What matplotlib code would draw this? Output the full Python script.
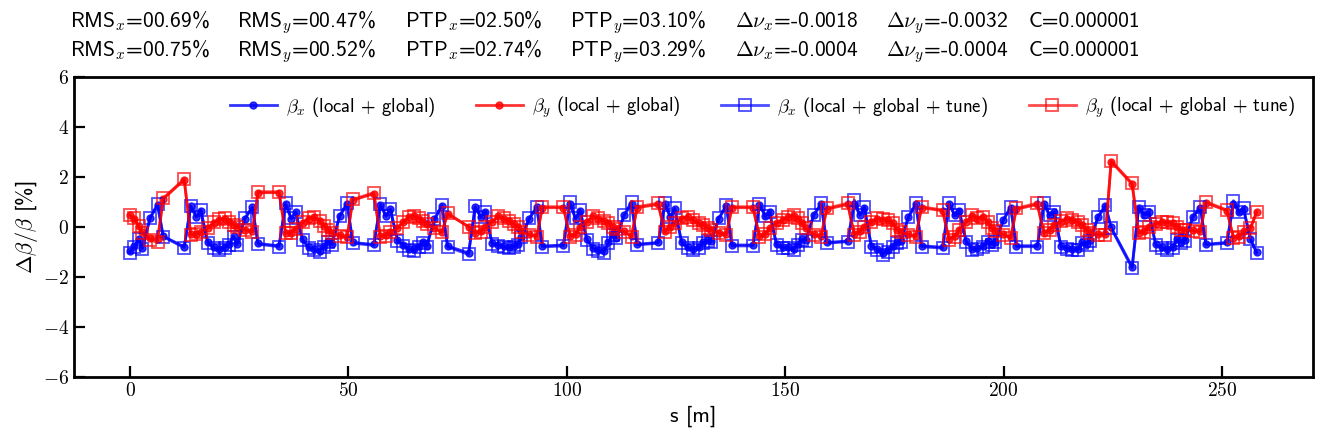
import numpy as np
import matplotlib.pyplot as plt
from matplotlib.ticker import FuncFormatter

plt.rcParams['font.family'] = ['cmss10', 'DejaVu Sans']
plt.rcParams['mathtext.fontset'] = 'cm'
plt.rcParams['axes.unicode_minus'] = False

# lattice: 12 cells, BPM offsets inside one cell [m]
cell_length = 21.7
bpm_offsets = [0.0, 1.0, 2.0, 2.8, 4.6, 6.3, 7.6, 12.4, 13.9, 15.2, 16.2, 17.8, 19.2, 20.4]
n_bpm = 167
s = [k * cell_length + o for k in range(12) for o in bpm_offsets][:n_bpm]

# beta-beat [%], local + global correction
bx_glob = [
    -0.97, -0.78, -0.48, -0.84, 0.35, 0.88, -0.37, -0.79, 0.82, 0.39, 0.65, -0.62, -0.81, -0.88,
    -0.81, -0.69, -0.37, -0.69, 0.33, 0.78, -0.66, -0.75, 0.90, 0.33, 0.58, -0.50, -0.81, -0.88,
    -0.95, -0.75, -0.56, -0.69, 0.43, 0.91, -0.62, -0.70, 0.88, 0.43, 0.70, -0.52, -0.71, -0.88,
    -0.90, -0.78, -0.62, -0.75, 0.30, 0.84, -0.76, -1.04, 0.78, 0.39, 0.58, -0.65, -0.71, -0.78,
    -0.81, -0.75, -0.69, -0.40, 0.33, 0.78, -0.76, -0.72, 0.91, 0.33, 0.65, -0.50, -0.84, -0.92,
    -0.98, -0.62, -0.30, -0.43, 0.46, 0.91, -0.69, -0.62, 0.90, 0.39, 0.71, -0.62, -0.81, -0.88,
    -0.81, -0.62, -0.52, -0.57, 0.33, 0.84, -0.72, -0.72, 0.88, 0.43, 0.58, -0.69, -0.81, -0.81,
    -0.88, -0.69, -0.50, -0.52, 0.46, 0.90, -0.62, -0.56, 0.91, 0.46, 0.77, -0.75, -0.88, -1.06,
    -0.94, -0.76, -0.62, -0.57, 0.39, 0.90, -0.75, -0.81, 0.90, 0.46, 0.65, -0.56, -0.88, -0.85,
    -0.75, -0.56, -0.69, -0.59, 0.27, 0.77, -0.75, -0.75, 0.90, 0.46, 0.58, -0.75, -0.84, -0.88,
    -0.88, -0.62, -0.69, -0.52, 0.39, 0.84, -0.02, -1.59, 0.77, 0.46, 0.58, -0.69, -0.81, -0.88,
    -0.81, -0.50, -0.62, -0.52, 0.39, 0.77, -0.69, -0.62, 0.91, 0.58, 0.71, -0.48, -1.00,
]
by_glob = [
    0.46, 0.33, 0.02, -0.22, -0.45, -0.49, 1.12, 1.88, -0.30, -0.27, -0.20, -0.04, 0.17, 0.28,
    0.33, 0.20, 0.08, 0.01, -0.11, -0.18, 1.37, 1.37, -0.23, -0.23, -0.07, 0.17, 0.33, 0.39,
    0.24, 0.05, -0.11, -0.23, -0.33, -0.40, 1.07, 1.33, -0.37, -0.33, -0.19, -0.05, 0.20, 0.38,
    0.43, 0.33, 0.21, 0.11, -0.05, -0.21, 0.52, 0.01, -0.23, -0.18, 0.00, 0.20, 0.43, 0.33,
    0.24, 0.11, 0.01, -0.18, -0.30, -0.37, 0.77, 0.77, -0.37, -0.30, 0.01, 0.20, 0.43, 0.33,
    0.24, 0.14, 0.01, -0.08, -0.18, -0.37, 0.77, 0.90, -0.18, 0.01, 0.14, 0.33, 0.39, 0.26,
    0.14, 0.08, -0.05, -0.11, -0.23, -0.30, 0.77, 0.77, -0.38, -0.28, -0.05, 0.14, 0.26, 0.38,
    0.45, 0.33, 0.14, -0.05, -0.30, -0.37, 0.71, 0.90, -0.30, -0.18, 0.00, 0.20, 0.33, 0.28,
    0.26, 0.14, -0.11, -0.19, -0.30, -0.37, 0.77, 0.65, -0.48, -0.37, -0.11, 0.19, 0.45, 0.33,
    0.39, 0.20, -0.05, -0.17, -0.30, -0.42, 0.71, 0.90, -0.23, -0.11, 0.08, 0.21, 0.33, 0.26,
    0.20, 0.08, -0.11, -0.23, -0.30, -0.30, 2.61, 1.71, -0.23, -0.18, 0.01, 0.11, 0.20, 0.17,
    0.14, 0.01, -0.11, -0.11, -0.14, -0.18, 0.96, 0.65, -0.43, -0.37, -0.18, -0.05, 0.58,
]
# local + global + tune correction
bx_tune = [
    -1.03, -0.82, -0.50, -0.88, 0.37, 0.92, -0.39, -0.83, 0.85, 0.41, 0.68, -0.65, -0.85, -0.92,
    -0.85, -0.72, -0.39, -0.72, 0.35, 0.81, -0.69, -0.79, 0.95, 0.35, 0.61, -0.52, -0.85, -0.92,
    -1.00, -0.79, -0.59, -0.72, 0.45, 0.97, -0.65, -0.74, 0.92, 0.45, 0.73, -0.55, -0.75, -0.92,
    -0.95, -0.82, -0.65, -0.79, 0.32, 0.88, -0.80, -1.10, 0.82, 0.41, 0.61, -0.68, -0.75, -0.82,
    -0.85, -0.79, -0.72, -0.42, 0.35, 0.81, -0.80, -0.76, 0.99, 0.35, 0.68, -0.52, -0.88, -0.97,
    -1.03, -0.65, -0.32, -0.45, 0.48, 1.01, -0.72, -0.65, 0.95, 0.41, 0.75, -0.65, -0.85, -0.92,
    -0.85, -0.65, -0.55, -0.60, 0.35, 0.88, -0.76, -0.76, 0.92, 0.45, 0.61, -0.72, -0.85, -0.85,
    -0.92, -0.72, -0.52, -0.55, 0.48, 0.95, -0.65, -0.59, 1.08, 0.48, 0.81, -0.79, -0.92, -1.12,
    -0.99, -0.80, -0.65, -0.60, 0.41, 0.95, -0.79, -0.85, 0.95, 0.48, 0.68, -0.59, -0.92, -0.89,
    -0.79, -0.59, -0.72, -0.62, 0.28, 0.81, -0.79, -0.79, 0.95, 0.48, 0.61, -0.79, -0.88, -0.92,
    -0.92, -0.65, -0.72, -0.55, 0.41, 0.88, -0.05, -1.65, 0.81, 0.48, 0.61, -0.72, -0.85, -0.92,
    -0.85, -0.52, -0.65, -0.55, 0.41, 0.81, -0.72, -0.65, 1.05, 0.61, 0.75, -0.50, -1.05,
]
by_tune = [
    0.48, 0.35, 0.02, -0.25, -0.52, -0.62, 1.15, 1.92, -0.32, -0.29, -0.22, -0.05, 0.18, 0.30,
    0.35, 0.21, 0.08, 0.01, -0.12, -0.19, 1.41, 1.41, -0.25, -0.25, -0.08, 0.18, 0.35, 0.41,
    0.25, 0.05, -0.12, -0.25, -0.35, -0.42, 1.10, 1.37, -0.39, -0.35, -0.20, -0.05, 0.21, 0.40,
    0.45, 0.35, 0.22, 0.12, -0.05, -0.22, 0.55, 0.01, -0.25, -0.19, 0.00, 0.21, 0.45, 0.35,
    0.25, 0.12, 0.01, -0.19, -0.32, -0.39, 0.81, 0.81, -0.39, -0.32, 0.01, 0.21, 0.45, 0.35,
    0.25, 0.15, 0.01, -0.08, -0.19, -0.39, 0.81, 0.95, -0.19, 0.01, 0.15, 0.35, 0.41, 0.28,
    0.15, 0.08, -0.05, -0.12, -0.25, -0.32, 0.81, 0.81, -0.40, -0.30, -0.05, 0.15, 0.28, 0.40,
    0.48, 0.35, 0.15, -0.05, -0.32, -0.39, 0.75, 0.95, -0.32, -0.19, 0.00, 0.21, 0.35, 0.30,
    0.28, 0.15, -0.12, -0.20, -0.32, -0.39, 0.81, 0.68, -0.52, -0.39, -0.12, 0.20, 0.48, 0.35,
    0.41, 0.21, -0.05, -0.18, -0.32, -0.45, 0.75, 0.95, -0.25, -0.12, 0.08, 0.22, 0.35, 0.28,
    0.21, 0.08, -0.12, -0.25, -0.32, -0.32, 2.65, 1.75, -0.25, -0.19, 0.01, 0.12, 0.21, 0.18,
    0.15, 0.01, -0.12, -0.12, -0.15, -0.19, 1.01, 0.68, -0.45, -0.39, -0.19, -0.05, 0.61,
]

# summary numbers shown above the plot (row 0: local+global, row 1: +tune)
rms_x = ['00.69', '00.75']
rms_y = ['00.47', '00.52']
ptp_x = ['02.50', '02.74']
ptp_y = ['03.10', '03.29']
dnu_x = ['-0.0018', '-0.0004']
dnu_y = ['-0.0032', '-0.0004']
coupling = ['0.000001', '0.000001']

fig = plt.figure(figsize=(13.23, 4.42), dpi=100)
ax = fig.add_axes([0.0557, 0.147, 0.9367, 0.679])

ax.plot(s, bx_glob, '-o', color='b', lw=2, ms=5, alpha=0.8,
        label=r'$\beta_x$ (local + global)')
ax.plot(s, by_glob, '-o', color='r', lw=2, ms=5, alpha=0.8,
        label=r'$\beta_y$ (local + global)')
ax.plot(s, bx_tune, '-s', color='b', lw=2, ms=8, mfc='none', mew=1.3, alpha=0.7,
        label=r'$\beta_x$ (local + global + tune)')
ax.plot(s, by_tune, '-s', color='r', lw=2, ms=8, mfc='none', mew=1.3, alpha=0.7,
        label=r'$\beta_y$ (local + global + tune)')

ax.set_ylim(-6, 6)
ax.set_yticks([-6, -4, -2, 0, 2, 4, 6])
ax.set_xticks([0, 50, 100, 150, 200, 250])
fmt = FuncFormatter(lambda v, p: r'$%d$' % v)
ax.xaxis.set_major_formatter(fmt)
ax.yaxis.set_major_formatter(fmt)
ax.tick_params(direction='in', length=8, width=1.6, labelsize=14)
for sp in ax.spines.values():
    sp.set_linewidth(2)

ax.set_xlabel('s [m]', fontsize=16, labelpad=4)
ax.set_ylabel(r'$\Delta\beta/\beta$ [%]', fontsize=16, labelpad=2)

ax.legend(loc='upper right', ncol=4, frameon=False, fontsize=13.5,
          handlelength=2.5, handletextpad=0.5, columnspacing=2.15, borderaxespad=0.55)

cols = [70, 237, 405, 570, 735, 886, 1029]
for row, yb in enumerate([27, 56]):
    items = [r'RMS$_x$=%s%%' % rms_x[row], r'RMS$_y$=%s%%' % rms_y[row],
             r'PTP$_x$=%s%%' % ptp_x[row], r'PTP$_y$=%s%%' % ptp_y[row],
             r'$\Delta\nu_x$=%s' % dnu_x[row], r'$\Delta\nu_y$=%s' % dnu_y[row],
             'C=%s' % coupling[row]]
    for xp, txt in zip(cols, items):
        fig.text(xp / 1323, 1 - yb / 442, txt, fontsize=15.5, va='baseline', ha='left')

fig.savefig('out.png', dpi=100)
